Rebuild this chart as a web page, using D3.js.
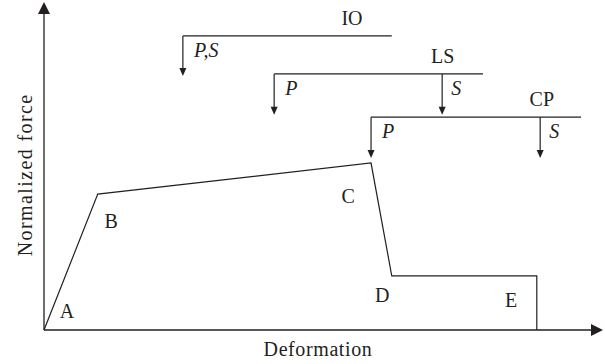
<!DOCTYPE html>
<html>
<head>
<meta charset="utf-8">
<script src="https://cdn.jsdelivr.net/npm/d3@7"></script>
<style>
  body { margin: 0; background: #fff; }
  text { font-family: "Liberation Serif", "DejaVu Serif", serif; fill: #231f20; }
</style>
</head>
<body>
<svg id="chart" width="605" height="364"></svg>
<script>
// backbone curve, normalized units (0-100 on both axes)
var pointNames = ["A", "B", "C", "D", "E", "E0"];
var deformation = [0, 9.6, 58.4, 62.1, 88.0, 88.0];
var force = [0, 41.2, 50.6, 16.4, 16.4, 0];

// point labels, placed near each corner
var labelNames = ["A", "B", "C", "D", "E"];
var labelX = [4.1, 12.0, 54.3, 60.4, 83.4];
var labelY = [3.6, 30.9, 38.5, 8.5, 7.0];

// performance levels: bracket lines with arrows
var levelNames = ["IO", "LS", "CP"];
var levelStart = [24.8, 41.1, 58.4];
var levelEnd = [62.1, 78.4, 95.9];
var levelY = [89.1, 77.6, 64.5];
var levelTip = [77.0, 65.2, 52.1];
var levelNameX = [55.0, 71.2, 88.9];
var arrowsP = [24.8, 41.1, 58.4];
var arrowsPText = ["P,S", "P", "P"];
var arrowsS = [null, 71.1, 88.6];

const width = 605, height = 364;
var margin = {left: 44, right: 1, top: 0, bottom: 34};
var ink = "#231f20";

var x = d3.scaleLinear().domain([0, 100]).range([margin.left, width - margin.right]);
var y = d3.scaleLinear().domain([0, 100]).range([height - margin.bottom, margin.top]);

var svg = d3.select("#chart");

// axes with arrow heads
svg.append("line")
  .attr("x1", x(0)).attr("y1", y(0))
  .attr("x2", x(0)).attr("y2", y(100) + 8)
  .attr("stroke", ink).attr("stroke-width", 1.3);
svg.append("path")
  .attr("d", "M" + x(0) + "," + (y(100) + 2) + " L" + (x(0) - 6) + "," + (y(100) + 14) + " L" + (x(0) + 6) + "," + (y(100) + 14) + " Z")
  .attr("fill", ink);

svg.append("line")
  .attr("x1", x(0)).attr("y1", y(0))
  .attr("x2", x(100) - 8).attr("y2", y(0))
  .attr("stroke", ink).attr("stroke-width", 1.3);
svg.append("path")
  .attr("d", "M" + (x(100) - 1) + "," + y(0) + " L" + (x(100) - 13) + "," + (y(0) - 6) + " L" + (x(100) - 13) + "," + (y(0) + 6) + " Z")
  .attr("fill", ink);

// axis titles
svg.append("text")
  .attr("x", 318)
  .attr("y", height - 8)
  .attr("text-anchor", "middle")
  .attr("font-size", 20)
  .attr("letter-spacing", 0.6)
  .text("Deformation");

svg.append("text")
  .attr("transform", "translate(32," + y(47) + ") rotate(-90)")
  .attr("text-anchor", "middle")
  .attr("font-size", 20)
  .attr("letter-spacing", 1.4)
  .text("Normalized force");

// backbone
var curve = deformation.map(function(d, i) { return [d, force[i]]; });
svg.append("path")
  .datum(curve)
  .attr("d", d3.line().x(function(d) { return x(d[0]); }).y(function(d) { return y(d[1]); }))
  .attr("fill", "none")
  .attr("stroke", ink)
  .attr("stroke-width", 1.2);

svg.selectAll(".pt")
  .data(labelNames).enter()
  .append("text")
  .attr("class", "pt")
  .attr("x", function(d, i) { return x(labelX[i]); })
  .attr("y", function(d, i) { return y(labelY[i]); })
  .attr("text-anchor", "middle")
  .attr("font-size", 20)
  .text(function(d) { return d; });

// arrow helper
function downArrow(xv, yTop, yTip) {
  svg.append("line")
    .attr("x1", x(xv)).attr("y1", y(yTop))
    .attr("x2", x(xv)).attr("y2", y(yTip) - 5)
    .attr("stroke", ink).attr("stroke-width", 1.2);
  svg.append("path")
    .attr("d", "M" + x(xv) + "," + y(yTip) + " L" + (x(xv) - 3.5) + "," + (y(yTip) - 8) + " L" + (x(xv) + 3.5) + "," + (y(yTip) - 8) + " Z")
    .attr("fill", ink);
}

levelNames.forEach(function(name, i) {
  svg.append("line")
    .attr("x1", x(levelStart[i])).attr("y1", y(levelY[i]))
    .attr("x2", x(levelEnd[i])).attr("y2", y(levelY[i]))
    .attr("stroke", ink).attr("stroke-width", 1.2);
  svg.append("text")
    .attr("x", x(levelNameX[i]))
    .attr("y", y(levelY[i]) - 11)
    .attr("text-anchor", "middle")
    .attr("font-size", 20)
    .text(name);

  downArrow(arrowsP[i], levelY[i], levelTip[i]);
  svg.append("text")
    .attr("x", x(arrowsP[i]) + 11)
    .attr("y", y(levelY[i]) + 21)
    .attr("font-size", 20)
    .attr("font-style", "italic")
    .text(arrowsPText[i]);

  if (arrowsS[i] != null) {
    downArrow(arrowsS[i], levelY[i], levelTip[i]);
    svg.append("text")
      .attr("x", x(arrowsS[i]) + 9)
      .attr("y", y(levelY[i]) + 21)
      .attr("font-size", 20)
      .attr("font-style", "italic")
      .text("S");
  }
});
</script>
</body>
</html>
